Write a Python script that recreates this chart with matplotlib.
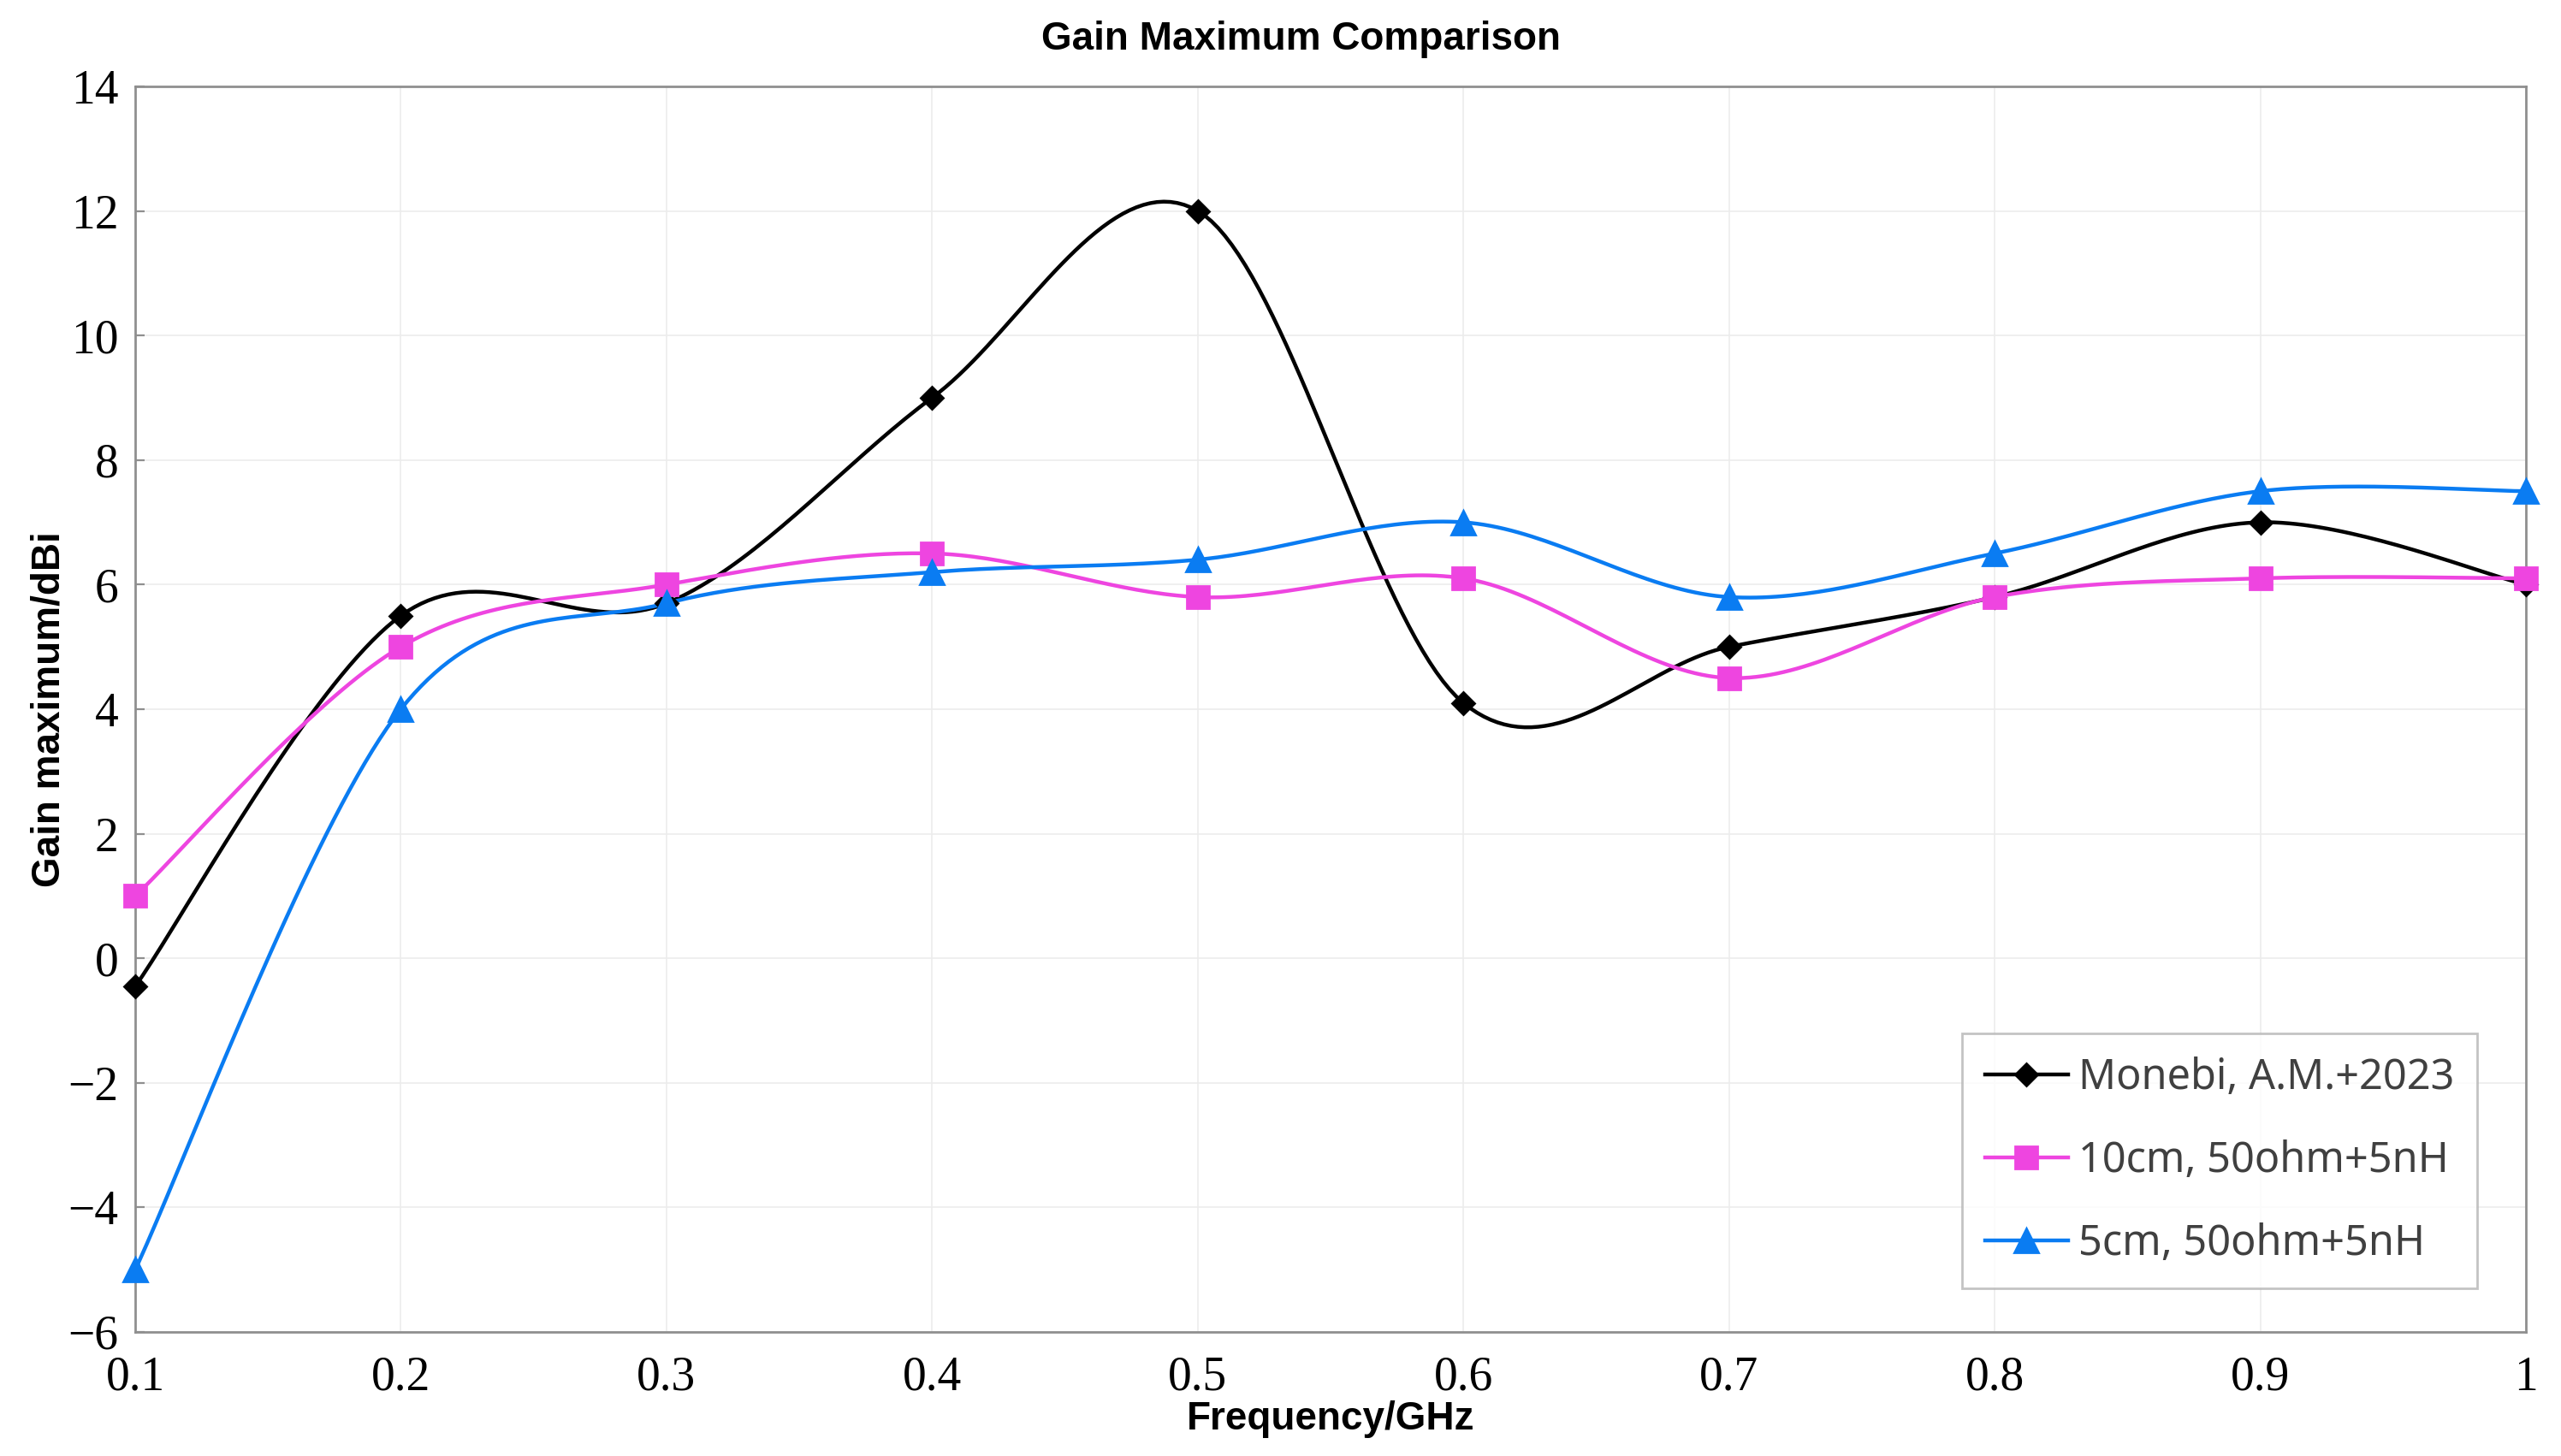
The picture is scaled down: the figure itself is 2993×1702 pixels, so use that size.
import numpy as np
import matplotlib
matplotlib.use("Agg")
import matplotlib.pyplot as plt

# data
freq = [0.1, 0.2, 0.3, 0.4, 0.5, 0.6, 0.7, 0.8, 0.9, 1.0]
monebi = [-0.45, 5.5, 5.7, 9.0, 12.0, 4.1, 5.0, 5.8, 7.0, 6.0]
gain_10cm = [1.0, 5.0, 6.0, 6.5, 5.8, 6.1, 4.5, 5.8, 6.1, 6.1]
gain_5cm = [-5.0, 4.0, 5.7, 6.2, 6.4, 7.0, 5.8, 6.5, 7.5, 7.5]
labels = ["Monebi, A.M.+2023", "10cm, 50ohm+5nH", "5cm, 50ohm+5nH"]
xtick_labels = ["0.1", "0.2", "0.3", "0.4", "0.5", "0.6", "0.7", "0.8", "0.9", "1"]
yticks = [-6, -4, -2, 0, 2, 4, 6, 8, 10, 12, 14]


def smooth(x, y, n=40):
    # spreadsheet-style smoothed line (cardinal bezier through the points)
    p = np.column_stack([x, y]).astype(float)
    pts = []
    for i in range(len(p) - 1):
        prev = p[i - 1] if i > 0 else p[i]
        nxt = p[i + 2] if i + 2 < len(p) else p[i + 1]
        c1 = p[i] + (p[i + 1] - prev) / 6
        c2 = p[i + 1] - (nxt - p[i]) / 6
        t = np.linspace(0, 1, n)[:, None]
        seg = ((1 - t) ** 3 * p[i] + 3 * (1 - t) ** 2 * t * c1
               + 3 * (1 - t) * t ** 2 * c2 + t ** 3 * p[i + 1])
        pts.append(seg if i == 0 else seg[1:])
    pts = np.vstack(pts)
    return pts[:, 0], pts[:, 1]


fig = plt.figure(figsize=(2993 / 200, 1702 / 200), dpi=200)
ax = fig.add_axes([0.0528, 0.0852, 0.9335, 0.8555])

series = [
    (monebi, "#000000", "D", 6.8),
    (gain_10cm, "#ee45e0", "s", 9.5),
    (gain_5cm, "#0a7cf2", "^", 10),
]
for (vals, col, mk, ms), lab in zip(series, labels):
    sx, sy = smooth(freq, vals)
    ax.plot(sx, sy, color=col, lw=1.6, zorder=3)
    ax.plot(freq, vals, linestyle="none", marker=mk, ms=ms, color=col,
            clip_on=False, zorder=4)
    # legend proxy
    ax.plot([], [], color=col, lw=1.6, marker=mk, ms=ms, label=lab)

ax.set_xlim(0.1, 1.0)
ax.set_ylim(-6, 14)
ax.set_xticks(freq)
ax.set_xticklabels(xtick_labels)
ax.set_yticks(yticks)

ax.grid(True, color="#ececec", lw=0.6, zorder=0)
for s in ax.spines.values():
    s.set_color("#8f8f8f")
    s.set_linewidth(1.0)

serif = ["Liberation Serif", "DejaVu Serif"]
for t in ax.get_xticklabels() + ax.get_yticklabels():
    t.set_family(serif)
    t.set_fontsize(20)
ax.tick_params(axis="x", length=0, pad=10)
ax.tick_params(axis="y", direction="in", length=4, color="#8f8f8f", pad=7)

bold = dict(family="Liberation Sans", fontweight="bold", fontsize=16.5)
ax.set_xlabel("Frequency/GHz", labelpad=0, **bold)
ax.set_ylabel("Gain maximum/dBi", labelpad=0, **bold)
ax.set_title("Gain Maximum Comparison", pad=15.5, x=0.4875, **bold)

leg = ax.legend(loc="lower right", bbox_to_anchor=(0.9796, 0.035),
                prop={"family": ["Noto Sans", "DejaVu Sans"], "size": 17.5},
                frameon=True, fancybox=False, edgecolor="#b5b5b5",
                handlelength=2.0, handletextpad=0.25, labelspacing=0.97,
                borderpad=0.55, borderaxespad=0)
leg.get_frame().set_linewidth(1.0)
for t in leg.get_texts():
    t.set_color("#404040")

fig.savefig("out.png", dpi=200)
